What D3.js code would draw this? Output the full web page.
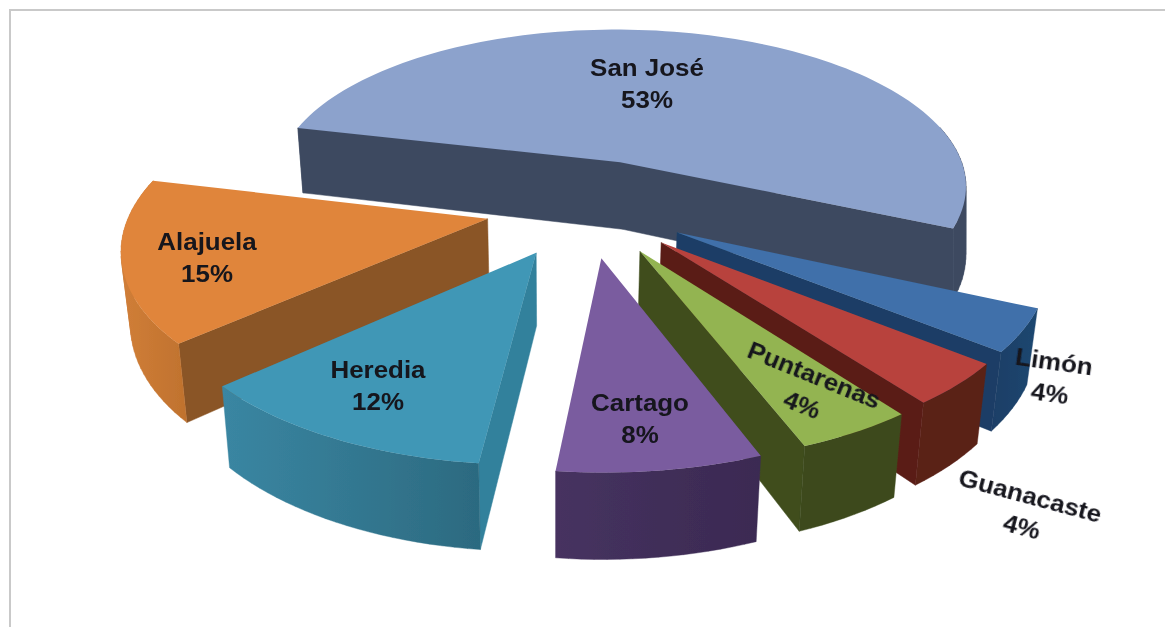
<!DOCTYPE html>
<html>
<head>
<meta charset="utf-8">
<script src="https://d3js.org/d3.v7.min.js"></script>
<style>
  html, body { margin: 0; padding: 0; background: #fff; }
  text { font-family: "Liberation Sans", Arial, sans-serif; font-weight: bold; font-size: 24px; fill: #14141c; text-anchor: middle; }
</style>
</head>
<body>
<div id="my_chart"></div>
<script>
// chart data, clockwise from the back slice (labels show these rounded)
var provinces = ["San José", "Limón", "Guanacaste", "Puntarenas", "Cartago", "Heredia", "Alajuela"];
var shares = [53, 4, 4, 4.4, 7.6, 11.6, 15.4];

// face colours per slice
var topColors = ["#8ca2cc", "#3f70aa", "#b8433e", "#93b451", "#7a5b9f", "#3f97b6", "#e0853b"];
var sideColors = ["#3e4a61", "#1c3e66", "#5a1e16", "#3f4d1d", "#4a3566", "#33819c", "#8a5425"];
var rimLeft = ["#3e4a61", "#1c3e66", "#5a2016", "#3d4a1c", "#463260", "#3a86a2", "#d07e38"];
var rimRight = ["#3e4a61", "#1f4770", "#5a2016", "#3d4a1c", "#3b2a52", "#2c6a80", "#c0722e"];

// how far each slice is pulled out of the pie
var slicePull = [0.3, 0.29, 0.29, 0.295, 0.3, 0.3, 0.285];
// walls lean towards this x as they go down, by this fraction
var leanX = [953, 555, 555, 555, 555, 555, 555];
var leanBy = [0.0077, 0.022, 0.022, 0.022, 0.022, 0.022, 0.022];

// back to front
var drawOrder = [0, 6, 1, 2, 3, 5, 4];

// label layout: x, y, rotation
var labelLayout = [
  [647, 76, 0], [1053, 370, 8], [1028, 504, 15], [811, 383, 22],
  [640, 411, 0], [378, 378, 0], [207, 250, 0]
];
var lineGap = 32;

var width = 1165, height = 627;

// perspective settings fitted to the picture
var cx = 587, cy = 207, radius = 356, tilt = 0.463, persp = 0.15, depth = 70;
var startAngle = -76.5 * Math.PI / 180;

var svg = d3.select("#my_chart")
  .append("svg")
  .attr("width", width)
  .attr("height", height)
  .style("display", "block");

var defs = svg.append("defs");
defs.append("filter").attr("id", "soft")
  .append("feGaussianBlur").attr("stdDeviation", 0.6);
defs.append("filter").attr("id", "softText")
  .append("feGaussianBlur").attr("stdDeviation", 0.35);

// frame on the left and top only
svg.append("path")
  .attr("d", "M10,627V10H" + width)
  .attr("fill", "none")
  .attr("stroke", "#c9c9c9")
  .attr("stroke-width", 2);

var pie = d3.pie()
  .sort(null)
  .startAngle(startAngle)
  .endAngle(startAngle + 2 * Math.PI);
var arcs = pie(shares);

// point of slice i to screen: r and a on the ground, z the drop below the top face
function slicePoint(d, i, r, a, z) {
  var mid = (d.startAngle + d.endAngle) / 2;
  var X = r * Math.sin(a) + slicePull[i] * Math.sin(mid);
  var Y = r * Math.cos(a) + slicePull[i] * Math.cos(mid);
  var s = 1 / (1 + persp * Y);
  var x = cx + radius * X * s;
  x = leanX[i] + (x - leanX[i]) * (1 - leanBy[i] * z / depth);
  return [x, cy - radius * tilt * Y * s + z * s];
}

var line = d3.line();

// path for a polygon, always wound the same way so pieces of one path never cancel
function wound(poly) {
  if (d3.polygonArea(poly) < 0) poly = poly.slice().reverse();
  return line(poly) + "Z";
}

var chart = svg.append("g").attr("filter", "url(#soft)");

drawOrder.forEach(function (i) {
  var d = arcs[i];
  var g = chart.append("g").attr("class", "slice");
  var n = Math.max(6, Math.round((d.endAngle - d.startAngle) / 0.03));
  var angles = d3.range(n + 1).map(function (k) {
    return d.startAngle + (d.endAngle - d.startAngle) * k / n;
  });

  var apexTop = slicePoint(d, i, 0, 0, 0), apexLow = slicePoint(d, i, 0, 0, depth);

  // the two cut faces, skipped when they turn away from the viewer
  var cutPath = "";
  [[d.startAngle, 1], [d.endAngle, -1]].forEach(function (cut) {
    var poly = [apexTop, slicePoint(d, i, 1, cut[0], 0), slicePoint(d, i, 1, cut[0], depth), apexLow];
    if (d3.polygonArea(poly) * cut[1] < 0) return;
    cutPath += wound(poly);
  });
  g.append("path")
    .attr("d", cutPath)
    .attr("fill", sideColors[i])
    .attr("stroke", sideColors[i])
    .attr("stroke-width", 0.5);

  // rim as strips in one path, shaded left to right
  var front = angles.filter(function (a) { return Math.cos(a) <= 0.25; });
  if (front.length > 1) {
    var rimPath = "", rimX = [];
    front.slice(1).forEach(function (a, k) {
      var quad = [slicePoint(d, i, 1, front[k], 0), slicePoint(d, i, 1, a, 0),
                  slicePoint(d, i, 1, a, depth), slicePoint(d, i, 1, front[k], depth)];
      rimPath += wound(quad);
      quad.forEach(function (p) { rimX.push(p[0]); });
    });
    var spanX = d3.extent(rimX);
    var grad = defs.append("linearGradient")
      .attr("id", "rim" + i)
      .attr("gradientUnits", "userSpaceOnUse")
      .attr("x1", spanX[0]).attr("x2", spanX[1])
      .attr("y1", 0).attr("y2", 0);
    grad.append("stop").attr("offset", 0).attr("stop-color", rimLeft[i]);
    grad.append("stop").attr("offset", 1).attr("stop-color", rimRight[i]);
    g.append("path")
      .attr("d", rimPath)
      .attr("fill", "url(#rim" + i + ")")
      .attr("stroke", "url(#rim" + i + ")")
      .attr("stroke-width", 0.4);
  }

  // top face
  var face = [apexTop].concat(angles.map(function (a) { return slicePoint(d, i, 1, a, 0); }));
  g.append("path")
    .attr("d", line(face) + "Z")
    .attr("fill", topColors[i]);
});

// labels, slightly wider than the plain font like the original
var labels = svg.append("g").attr("filter", "url(#softText)")
  .selectAll("g")
  .data(provinces)
  .enter()
  .append("g")
  .attr("transform", function (d, i) {
    var p = labelLayout[i];
    return "translate(" + p[0] + "," + p[1] + ") rotate(" + p[2] + ") scale(1.08,1)";
  });
labels.append("text").text(function (d) { return d; });
labels.append("text")
  .attr("y", lineGap)
  .text(function (d, i) { return Math.round(shares[i]) + "%"; });
</script>
</body>
</html>
